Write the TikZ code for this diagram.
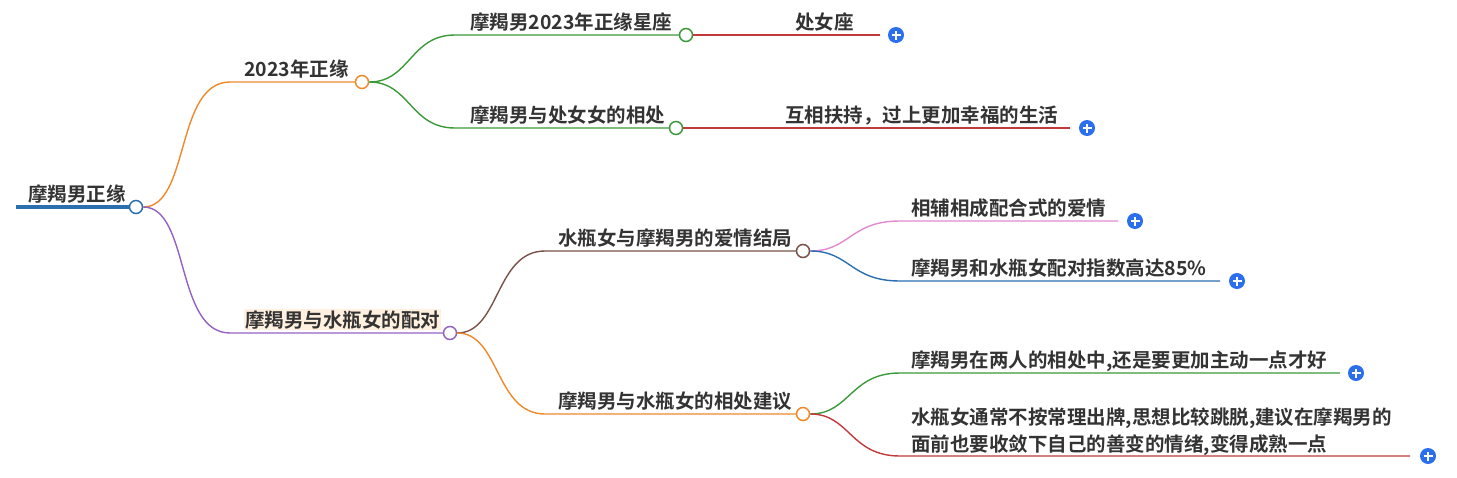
\documentclass[tikz,border=0pt]{standalone}
\usepackage{fontspec}
\setmainfont{Noto Sans CJK SC}[BoldFont={Noto Sans CJK SC Bold}]
\begin{document}
\begin{tikzpicture}[x=1pt,y=-1pt,
  lbl/.style={anchor=base west,inner sep=0pt,font=\fontsize{19.5}{24}\selectfont\bfseries,text=black!80},
  dot/.style={circle,draw=#1,fill=white,line width=1.5pt,minimum size=13pt,inner sep=0pt},
  plus/.style={circle,fill=blue!70!cyan!80!black,minimum size=16pt,inner sep=0pt,
     path picture={\draw[white,line width=1.6pt] ([xshift=-4.5pt]path picture bounding box.center)--([xshift=4.5pt]path picture bounding box.center);
     \draw[white,line width=1.6pt] ([yshift=-4.5pt]path picture bounding box.center)--([yshift=4.5pt]path picture bounding box.center);}},
  br/.style={line width=1.4pt}]
\definecolor{cblue}{HTML}{2A6FB0}\definecolor{corange}{HTML}{F0892A}
\definecolor{cgreen}{HTML}{3A9A3A}\definecolor{cred}{HTML}{C0393B}
\definecolor{cpurple}{HTML}{9362C4}\definecolor{cbrown}{HTML}{7A5148}
\definecolor{cpink}{HTML}{E08AD0}\definecolor{cplus}{HTML}{2B6FEC}
\tikzset{plus/.append style={fill=cplus}}
\useasboundingbox (0,0) rectangle (1457,477);
% root
\coordinate (r0) at (16,207);
\node[dot=cblue] (r) at (136,207) {};
\draw[cblue,line width=4pt] (r0) -- (r.west);
\node[lbl] (rt) at (28,201) {摩羯男正缘};
% A
\coordinate (a0) at (230,82);
\node[dot=corange] (a) at (362,82) {};
\draw[corange,br] (r.east) .. controls (190,207) and (175,82) .. (a0) -- (a.west);
\node[lbl] (at) at (244,76) {2023年正缘};
% A1
\coordinate (a10) at (455,35);
\node[dot=cgreen] (a1) at (686,35) {};
\draw[cgreen,br] (a.east) .. controls (410,82) and (410,35) .. (a10) -- (a1.west);
\node[lbl] (a1t) at (470,29) {摩羯男2023年正缘星座};
\node[plus] (a1p) at (896,35) {};
\draw[cred,br] (a1.east) -- (880,35);
\node[lbl] (a1c) at (795,29) {处女座};
% A2
\coordinate (a20) at (455,128);
\node[dot=cgreen] (a2) at (676,128) {};
\draw[cgreen,br] (a.east) .. controls (410,82) and (410,128) .. (a20) -- (a2.west);
\node[lbl] (a2t) at (470,122) {摩羯男与处女女的相处};
\node[plus] (a2p) at (1087,128) {};
\draw[cred,br] (a2.east) -- (1070,128);
\node[lbl] (a2c) at (785,122) {互相扶持，过上更加幸福的生活};
% B
\coordinate (b0) at (230,333);
\node[dot=cpurple] (b) at (450,333) {};
\draw[cpurple,br] (r.east) .. controls (190,207) and (175,333) .. (b0) -- (b.west);
\node[lbl,fill=orange!12,inner sep=1pt] (bt) at (244,327) {摩羯男与水瓶女的配对};
% B1
\coordinate (b10) at (545,251);
\node[dot=cbrown] (b1) at (803,251) {};
\draw[cbrown,br] (b.east) .. controls (500,333) and (495,251) .. (b10) -- (b1.west);
\node[lbl] (b1t) at (558,245) {水瓶女与摩羯男的爱情结局};
% B1a
\coordinate (b1a0) at (900,221);
\node[plus] (b1ap) at (1135,221) {};
\draw[cpink,br] (b1.east) .. controls (850,251) and (850,221) .. (b1a0) -- (1118,221);
\node[lbl] (b1at) at (911,215) {相辅相成配合式的爱情};
% B1b
\coordinate (b1b0) at (900,281);
\node[plus] (b1bp) at (1237,281) {};
\draw[cblue,br] (b1.east) .. controls (850,251) and (850,281) .. (b1b0) -- (1220,281);
\node[lbl] (b1bt) at (911,275) {摩羯男和水瓶女配对指数高达85\%};
% B2
\coordinate (b20) at (545,414);
\node[dot=corange] (b2) at (803,414) {};
\draw[corange,br] (b.east) .. controls (500,333) and (495,414) .. (b20) -- (b2.west);
\node[lbl] (b2t) at (558,408) {摩羯男与水瓶女的相处建议};
% B2a
\coordinate (b2a0) at (900,373);
\node[plus] (b2ap) at (1356,373) {};
\draw[cgreen,br] (b2.east) .. controls (850,414) and (850,373) .. (b2a0) -- (1340,373);
\node[lbl] (b2at) at (911,367) {摩羯男在两人的相处中,还是要更加主动一点才好};
% B2b
\coordinate (b2b0) at (900,456);
\node[plus] (b2bp) at (1428,456) {};
\draw[cred,br] (b2.east) .. controls (850,414) and (850,456) .. (b2b0) -- (1410,456);
\node[lbl] (b2bt1) at (911,424) {水瓶女通常不按常理出牌,思想比较跳脱,建议在摩羯男的};
\node[lbl] (b2bt2) at (911,451) {面前也要收敛下自己的善变的情绪,变得成熟一点};
\end{tikzpicture}
\end{document}
